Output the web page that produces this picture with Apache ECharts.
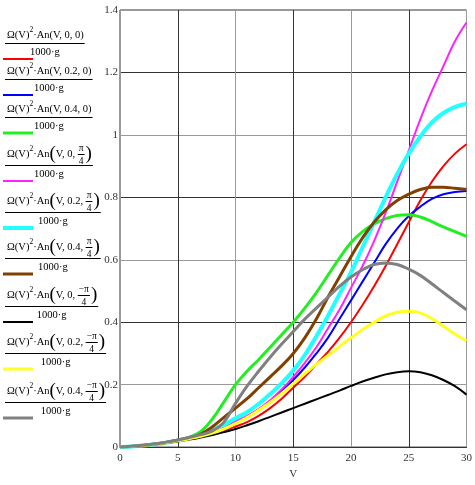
<!DOCTYPE html>
<html>
<head>
<meta charset="utf-8">
<script src="https://cdn.jsdelivr.net/npm/echarts@6/dist/echarts.min.js"></script>
<style>html,body{margin:0;padding:0;background:#fff;}#c{width:475px;height:485px;}</style>
</head>
<body>
<div id="c"></div>
<script>
const V = [0,1,2,3,4,5,6,7,8,9,10,11,12,13,14,15,16,17,18,19,20,21,22,23,24,25,26,27,28,29,30];
const red = [0,0.002,0.005,0.009,0.014,0.02,0.026,0.033,0.042,0.053,0.066,0.08,0.1,0.125,0.155,0.19,0.225,0.265,0.305,0.35,0.40,0.455,0.515,0.58,0.65,0.72,0.79,0.85,0.9,0.94,0.97];
const blue = [0,0.002,0.005,0.009,0.014,0.02,0.027,0.035,0.045,0.058,0.078,0.098,0.12,0.147,0.18,0.215,0.255,0.3,0.35,0.41,0.47,0.53,0.59,0.65,0.7,0.74,0.77,0.795,0.81,0.817,0.82];
const green = [0,0.002,0.005,0.01,0.015,0.022,0.032,0.05,0.09,0.145,0.2,0.243,0.28,0.32,0.36,0.4,0.445,0.495,0.55,0.605,0.655,0.69,0.715,0.732,0.742,0.744,0.737,0.722,0.705,0.69,0.675];
const magenta = [0,0.002,0.005,0.009,0.014,0.02,0.027,0.036,0.047,0.062,0.082,0.1,0.122,0.15,0.185,0.225,0.27,0.32,0.38,0.44,0.51,0.58,0.66,0.75,0.85,0.95,1.05,1.14,1.22,1.3,1.36];
const cyan = [0,0.002,0.005,0.009,0.014,0.021,0.029,0.04,0.055,0.072,0.092,0.112,0.138,0.17,0.205,0.245,0.295,0.355,0.42,0.49,0.56,0.64,0.72,0.8,0.875,0.94,0.995,1.04,1.07,1.09,1.1];
const brown = [0,0.002,0.005,0.01,0.015,0.022,0.03,0.042,0.065,0.095,0.125,0.155,0.19,0.225,0.26,0.3,0.35,0.41,0.48,0.545,0.61,0.67,0.72,0.76,0.79,0.81,0.825,0.832,0.832,0.829,0.825];
const black = [0,0.001,0.004,0.008,0.013,0.018,0.024,0.031,0.039,0.048,0.058,0.07,0.083,0.097,0.111,0.125,0.139,0.153,0.167,0.181,0.196,0.21,0.222,0.233,0.24,0.243,0.24,0.23,0.215,0.195,0.168];
const yellow = [0,0.002,0.005,0.009,0.014,0.02,0.027,0.035,0.045,0.058,0.075,0.095,0.118,0.143,0.172,0.203,0.235,0.265,0.293,0.322,0.35,0.377,0.4,0.42,0.432,0.435,0.43,0.412,0.387,0.362,0.34];
const gray = [0,0.003,0.006,0.01,0.016,0.023,0.031,0.04,0.052,0.08,0.14,0.195,0.243,0.288,0.33,0.37,0.41,0.445,0.48,0.515,0.545,0.568,0.585,0.59,0.585,0.57,0.55,0.523,0.495,0.467,0.44];

const legendSecond = ['0','0.2','0.4','0','0.2','0.4','0','0.2','0.4'];
const legendThirdNum = ['0','0','0','π','π','π','−π','−π','−π'];
const legendThirdDen = ['','','','4','4','4','4','4','4'];
const denominator = '1000·g';
const xTicks = [0,5,10,15,20,25,30];

const seriesData = [red, blue, green, magenta, cyan, brown, black, yellow, gray];
const colors = ['#ff0000','#0000ff','#22ee22','#ff22ff','#22ffff','#804000','#000000','#ffff22','#808080'];
const widths = [2,2,3,2,4,3,2,3,3];
const barYs = [43,79,117,165,212,258,306,353,402];

const FONT = '"Liberation Serif", "DejaVu Serif", serif';
const FS = 10.5;
const cv = document.createElement('canvas').getContext('2d');
function measure(s, size){ cv.font = size + 'px ' + FONT; return cv.measureText(s).width; }
function txt(s, x, y, size, align){
  return {type:'text', x:x, y:y, silent:true, z:10,
    style:{text:s, fontSize:size, fontFamily:FONT, fill:'#000', verticalAlign:'middle', align:align||'left'}};
}
function ln(x1,y1,x2,y2,color,w){
  return {type:'line', silent:true, z:10, shape:{x1:x1,y1:y1,x2:x2,y2:y2}, style:{stroke:color, lineWidth:w}};
}

const graphics = [];
for (let i = 0; i < 9; i++) {
  const B = barYs[i];
  const isFrac = legendThirdDen[i] !== '';
  const ny = isFrac ? B - 11 : B - 8;
  let x = 7;
  graphics.push(txt('Ω(V)', x, ny, FS)); x += measure('Ω(V)', FS);
  graphics.push(txt('2', x, ny - 5, 7.5)); x += measure('2', 7.5);
  if (!isFrac) {
    const s = '·An(V, ' + legendSecond[i] + ', ' + legendThirdNum[i] + ')';
    graphics.push(txt(s, x, ny, FS)); x += measure(s, FS);
  } else {
    graphics.push(txt('·An', x, ny, FS)); x += measure('·An', FS);
    graphics.push(txt('(', x, ny, 19)); x += measure('(', 19);
    const s = 'V, ' + legendSecond[i] + ', ';
    graphics.push(txt(s, x, ny, FS)); x += measure(s, FS);
    const fw = Math.max(measure(legendThirdNum[i], 9.5), measure('4', 9.5)) + 2;
    graphics.push(txt(legendThirdNum[i], x + fw/2, ny - 6, 9.5, 'center'));
    graphics.push(ln(x, ny + 0.5, x + fw, ny + 0.5, '#000', 1));
    graphics.push(txt(legendThirdDen[i], x + fw/2, ny + 7, 9.5, 'center'));
    x += fw + 1;
    graphics.push(txt(')', x, ny, 19)); x += measure(')', 19);
  }
  const end = x + 1;
  graphics.push(ln(5, B + 0.5, end, B + 0.5, '#000', 1));
  graphics.push(txt(denominator, (5 + end) / 2, B + 9, FS, 'center'));
  graphics.push(ln(3, B + 16, 33, B + 16, colors[i], widths[i]));
}

const chart = echarts.init(document.getElementById('c'), null, {renderer:'canvas'});
chart.setOption({
  animation: false,
  backgroundColor: '#fff',
  grid: {left: 120, right: 4, top: 10, bottom: 27, show: true, borderColor: '#333', borderWidth: 1},
  xAxis: {
    type: 'value', min: xTicks[0], max: xTicks[xTicks.length-1], interval: 5,
    name: 'V', nameLocation: 'middle', nameGap: 19,
    nameTextStyle: {fontFamily: FONT, fontSize: 11, color: '#333'},
    axisLine: {onZero: false, lineStyle: {color: '#333'}},
    axisTick: {show: false},
    axisLabel: {fontFamily: FONT, fontSize: 11, color: '#333', margin: 6},
    splitLine: {show: true, lineStyle: {color: ['#999', '#333'], width: 1}}
  },
  yAxis: {
    type: 'value', min: 0, max: 1.4, interval: 0.2,
    axisLine: {show: true, lineStyle: {color: '#999'}},
    axisTick: {show: false},
    axisLabel: {fontFamily: FONT, fontSize: 11, color: '#333', margin: 2},
    splitLine: {show: true, lineStyle: {color: ['#333', '#999'], width: 1}}
  },
  graphic: graphics,
  series: seriesData.map((d, i) => ({
    type: 'line', smooth: 0.4, showSymbol: false, silent: true,
    data: V.map((v, k) => [v, d[k]]),
    lineStyle: {color: colors[i], width: widths[i]},
    itemStyle: {color: colors[i]}
  }))
});
</script>
</body>
</html>
